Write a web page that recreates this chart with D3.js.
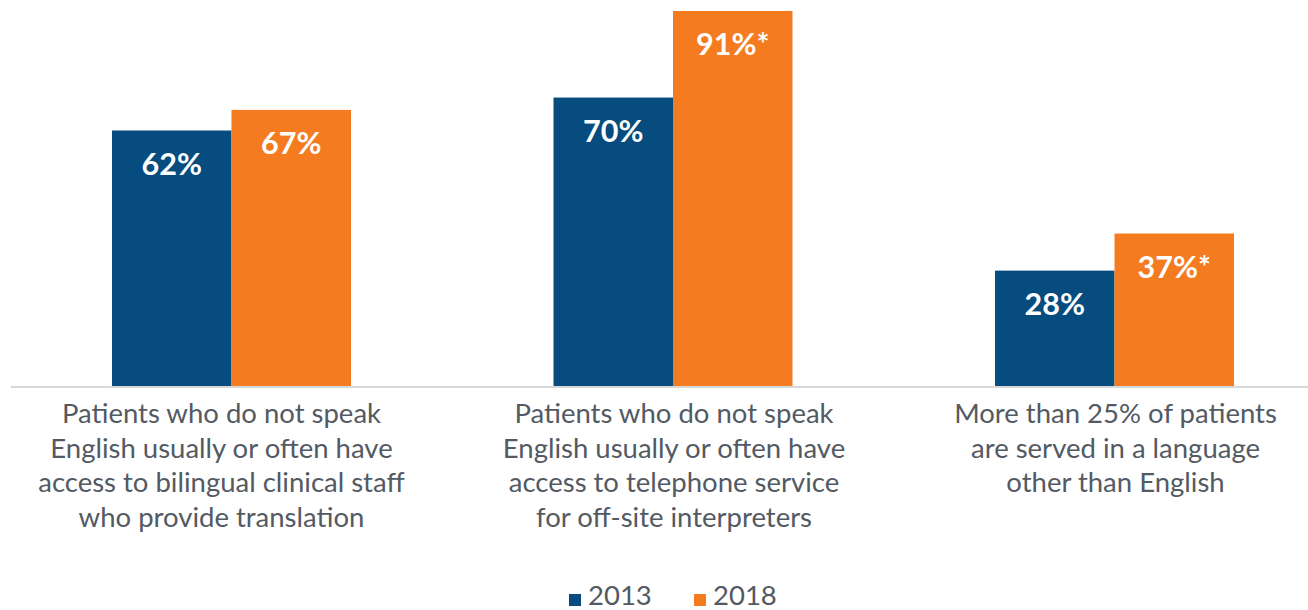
<!DOCTYPE html>
<html>
<head>
<meta charset="utf-8">
<script src="https://cdn.jsdelivr.net/npm/d3@7"></script>
<style>
  body { margin: 0; background: #fff; }
  svg { display: block; font-family: Lato, "Open Sans", sans-serif; }
</style>
</head>
<body>
<div id="chart"></div>
<script>
const categories = [
    ['Patients who do not speak', 'English usually or often have', 'access to bilingual clinical staff', 'who provide translation'],
    ['Patients who do not speak', 'English usually or often have', 'access to telephone service', 'for off-site interpreters'],
    ['More than 25% of patients', 'are served in a language', 'other than English']
];
const seriesNames = ['2013', '2018'];
const values2013 = [62, 70, 28];
const values2018 = [67, 91, 37];
const labels2013 = ['62%', '70%', '28%'];
const labels2018 = ['67%', '91%*', '37%*'];
const colors = ['#064c7e', '#f47b20'];

const width = 1308, height = 610;
const baseline = 386;

const svg = d3.select('#chart').append('svg')
    .attr('width', width)
    .attr('height', height);

const x0 = d3.scaleBand()
    .domain(d3.range(categories.length))
    .range([10.75, 1335.25])
    .paddingInner(0.4587)
    .paddingOuter(0.2293);

const x1 = d3.scaleBand()
    .domain(seriesNames)
    .range([0, x0.bandwidth()]);

const y = d3.scaleLinear()
    .domain([0, 91])
    .range([baseline, 11]);

const rows = categories.map((c, i) => ({
    i,
    vals: [
        { s: '2013', v: values2013[i], label: labels2013[i] },
        { s: '2018', v: values2018[i], label: labels2018[i] }
    ]
}));

// baseline
svg.append('line')
    .attr('x1', 11).attr('x2', width)
    .attr('y1', baseline + 1).attr('y2', baseline + 1)
    .attr('stroke', '#d9d9d9')
    .attr('stroke-width', 2);

const groups = svg.selectAll('g.group')
    .data(rows)
    .enter().append('g')
    .attr('class', 'group')
    .attr('transform', d => `translate(${x0(d.i)},0)`);

groups.selectAll('rect')
    .data(d => d.vals)
    .enter().append('rect')
    .attr('x', d => x1(d.s))
    .attr('y', d => y(d.v))
    .attr('width', x1.bandwidth())
    .attr('height', d => baseline - y(d.v))
    .attr('fill', (d, i) => colors[i]);

groups.selectAll('text.val')
    .data(d => d.vals)
    .enter().append('text')
    .attr('class', 'val')
    .attr('x', d => x1(d.s) + x1.bandwidth() / 2)
    .attr('y', d => y(d.v) + 44)
    .attr('text-anchor', 'middle')
    .attr('fill', '#fff')
    .attr('font-weight', 'bold')
    .attr('font-size', 30.5)
    .text(d => d.label);

// category labels (first one sits a little left of its group in the original)
const catShift = i => (i === 0 ? -10 : 1);

const catLabels = svg.selectAll('text.cat')
    .data(categories)
    .enter().append('text')
    .attr('class', 'cat')
    .attr('text-anchor', 'middle')
    .attr('fill', '#535a63')
    .attr('font-size', 27.5);

catLabels.selectAll('tspan')
    .data((d, i) => d.map(line => ({ line, i })))
    .enter().append('tspan')
    .attr('x', d => x0(d.i) + x0.bandwidth() / 2 + catShift(d.i))
    .attr('y', (d, j) => 423 + j * 34.5)
    .text(d => d.line);

// legend
const legendX = [569, 694];
const legend = svg.selectAll('g.legend')
    .data(seriesNames)
    .enter().append('g')
    .attr('class', 'legend')
    .attr('transform', (d, i) => `translate(${legendX[i]},0)`);

legend.append('rect')
    .attr('x', 0).attr('y', 594)
    .attr('width', 12).attr('height', 12)
    .attr('fill', (d, i) => colors[i]);

legend.append('text')
    .attr('x', 19).attr('y', 605)
    .attr('fill', '#535a63')
    .attr('font-size', 27.5)
    .text(d => d);
</script>
</body>
</html>
